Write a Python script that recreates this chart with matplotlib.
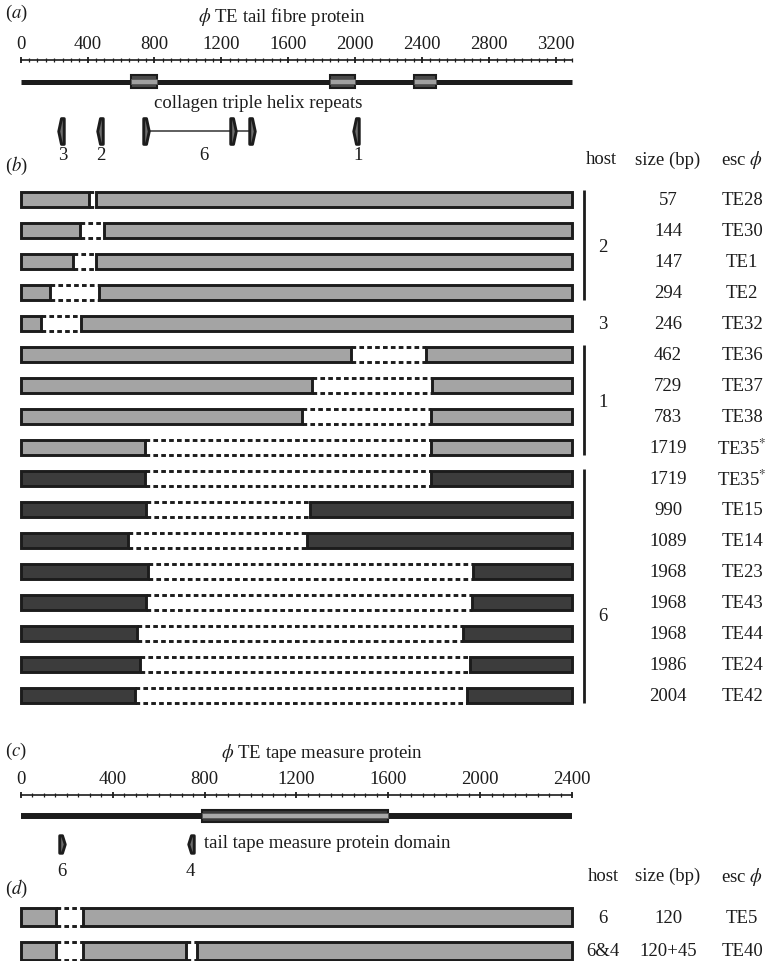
import matplotlib
matplotlib.use("Agg")
import matplotlib.pyplot as plt
from matplotlib.path import Path
from matplotlib.ticker import MultipleLocator
from matplotlib.transforms import Affine2D

plt.rcParams["font.family"] = ["Liberation Serif", "DejaVu Serif"]
plt.rcParams["mathtext.fontset"] = "stix"

# ---- (a) phi TE tail fibre protein ----
tail_len = 3300
collagen_start = [662, 1848, 2352]
collagen_end = [813, 1998, 2483]
a_mark_x = [243, 472, 752, 1270, 1385, 2008]
a_mark_dir = ["left", "left", "right", "right", "right", "left"]
a_label_x = [250, 480, 1097, 2020]
a_label_txt = ["3", "2", "6", "1"]
host6_span = [752, 1385]

# ---- (b) deletions in tail fibre gene ----
b_size = [57, 144, 147, 294, 246, 462, 729, 783, 1719,
          1719, 990, 1089, 1968, 1968, 1968, 1986, 2004]
b_esc = ["TE28", "TE30", "TE1", "TE2", "TE32", "TE36", "TE37", "TE38", "TE35*",
         "TE35*", "TE15", "TE14", "TE23", "TE43", "TE44", "TE24", "TE42"]
b_gap_start = [408, 353, 313, 178, 124, 1974, 1742, 1685, 746,
               746, 752, 642, 761, 752, 698, 712, 682]
b_gap_end = [453, 498, 453, 466, 363, 2426, 2462, 2456, 2456,
             2456, 1728, 1712, 2705, 2702, 2645, 2685, 2671]
b_dark = [False, False, False, False, False, False, False, False, False,
          True, True, True, True, True, True, True, True]
host_names = ["2", "3", "1", "6"]
host_first = [0, 4, 5, 9]
host_last = [3, 4, 8, 16]
host_label_row = [1.5, 4, 6.5, 13.4]

# ---- (c) phi TE tape measure protein ----
tape_len = 2400
tape_domain = [790, 1600]
c_mark_x = [178, 740]
c_mark_dir = ["right", "left"]
c_label_txt = ["6", "4"]

# ---- (d) deletions in tape measure gene ----
d_host = ["6", "6&4"]
d_size = ["120", "120+45"]
d_esc = ["TE5", "TE40"]
d_gap_start = [[154], [154, 719]]
d_gap_end = [[270], [270, 766]]

INK = "#1c1c1c"
LIGHT = "#a4a4a4"
DARK = "#3c3c3c"
FS = 13.5
W, H = 769, 962

fig = plt.figure(figsize=(W / 100, H / 100), dpi=100)
PX = Affine2D().scale(1 / W, -1 / H).translate(0, 1) + fig.transFigure

A0, A_SCALE = 20.7, 0.1672   # pixel of bp 0, pixels per bp
C0, C_SCALE = 20.7, 0.2298
HOST_X, SIZE_X, ESC_X, BRACKET_X = 603, 668, 742, 584


def band_axes(top, bottom):
    ax = fig.add_axes([0, 1 - bottom / H, 1, (bottom - top) / H])
    ax.set_axis_off()
    return ax


def ruler(y, x0, scale, length, major):
    ax = fig.add_axes([x0 / W, 1 - y / H, length * scale / W, 1e-4])
    ax.set_xlim(0, length)
    ax.set_ylim(0, 1)
    for s in ["top", "left", "right"]:
        ax.spines[s].set_visible(False)
    ax.spines["bottom"].set_linewidth(1.2)
    ax.spines["bottom"].set_color(INK)
    ax.xaxis.set_major_locator(MultipleLocator(major))
    ax.xaxis.set_minor_locator(MultipleLocator(50))
    ax.tick_params(axis="x", which="both", direction="inout", bottom=True, top=False,
                   labelbottom=False, labeltop=True, colors=INK)
    ax.tick_params(axis="x", which="major", length=5, width=1.3, pad=3, labelsize=FS)
    ax.tick_params(axis="x", which="minor", length=2.6, width=0.9)
    ax.set_yticks([])
    ax.patch.set_visible(False)
    return ax


def arrow_path(direction, half_w):
    s = -1 if direction == "left" else 1
    verts = [(-s * half_w, -0.5), (-s * half_w, 0.5), (0, 0.5), (s * half_w, 0), (0, -0.5)]
    return Path(verts + [verts[0]], closed=True)


def gene_row(ax, row, length, starts, ends, height, color):
    lefts = [0] + list(ends)
    rights = list(starts) + [length]
    ax.barh([row] * len(lefts), [r - l for l, r in zip(lefts, rights)], left=lefts,
            height=height, color=color, edgecolor=INK, linewidth=2.1, zorder=3)
    for s, e in zip(starts, ends):
        ax.hlines([row - height / 2, row + height / 2], s, e, colors=INK,
                  linewidth=2.1, linestyles=(0, (1.6, 1.1)), zorder=2)


def row_text(ax, row, x, s):
    if s.endswith("*"):
        s = s[:-1] + r"$^{*}$"
    ax.text(x / W, row, s, transform=ax.get_yaxis_transform(), ha="center",
            va="center", fontsize=FS, color=INK)


def ftext(x, y, s, ha="center"):
    fig.text(x, y, s, transform=PX, ha=ha, va="center", fontsize=FS, color=INK)


# ---------------- panel (a) ----------------
ax_a = band_axes(0, 185.2)
ax_a.set_xlim(-A0 / A_SCALE, (W - A0) / A_SCALE)
ax_a.set_ylim(185.2, 0)
ruler(60.7, A0, A_SCALE, tail_len, 400)
ax_a.hlines(82.7, 0, tail_len, colors=INK, linewidth=3.6, zorder=2)
ax_a.barh([82.7] * 3, [e - s for s, e in zip(collagen_start, collagen_end)],
          left=collagen_start, height=13, color="#4a4a4a", edgecolor=INK, lw=1.5, zorder=3)
ax_a.barh([82.7] * 3, [e - s for s, e in zip(collagen_start, collagen_end)],
          left=collagen_start, height=5, color="#a0a0a0", edgecolor="#555555", lw=0.6, zorder=4)
ax_a.hlines(131.7, host6_span[0], host6_span[1], colors="#333333", linewidth=1.1, zorder=2)
for x, d in zip(a_mark_x, a_mark_dir):
    ax_a.plot([x], [131.7], marker=arrow_path(d, 0.107), ms=18.5, mfc="#6e6e6e",
              mec=INK, mew=2.1, ls="none", zorder=3)
for x, t in zip(a_label_x, a_label_txt):
    ax_a.text(x, 155, t, ha="center", va="center", fontsize=FS, color=INK)

ftext(5, 13, "($a$)", ha="left")
ftext(281.7, 17, r"$\phi$ TE tail fibre protein")
ftext(258, 104, "collagen triple helix repeats")

# ---------------- panel (b) ----------------
ax_b = band_axes(185.2, 712.2)
ax_b.set_xlim(-A0 / A_SCALE, (W - A0) / A_SCALE)
ax_b.set_ylim(16.5, -0.5)
for i in range(len(b_size)):
    gene_row(ax_b, i, tail_len, [b_gap_start[i]], [b_gap_end[i]], 0.5,
             DARK if b_dark[i] else LIGHT)
    row_text(ax_b, i, SIZE_X, str(b_size[i]))
    row_text(ax_b, i, ESC_X, b_esc[i])
for name, f, l, yl in zip(host_names, host_first, host_last, host_label_row):
    if l > f:
        ax_b.vlines(BRACKET_X / W, f - 0.32, l + 0.25, transform=ax_b.get_yaxis_transform(),
                    colors=INK, linewidth=2.0)
    row_text(ax_b, yl, HOST_X, name)

ftext(5, 166, "($b$)", ha="left")
ftext(HOST_X - 2, 160, "host")
ftext(SIZE_X, 160, "size (bp)")
ftext(ESC_X, 160, r"esc $\phi$")

# ---------------- panel (c) ----------------
ax_c = band_axes(712.2, 900)
ax_c.set_xlim(-C0 / C_SCALE, (W - C0) / C_SCALE)
ax_c.set_ylim(900, 712.2)
ruler(796, C0, C_SCALE, tape_len, 400)
ax_c.hlines(816.7, 0, tape_len, colors=INK, linewidth=4.3, zorder=2)
ax_c.barh([816.7], [tape_domain[1] - tape_domain[0]], left=tape_domain[0], height=11.6,
          color="#3a3a3a", edgecolor=INK, lw=1.5, zorder=3)
ax_c.barh([816.7], [tape_domain[1] - tape_domain[0]], left=tape_domain[0], height=5,
          color="#a8a8a8", edgecolor="#555555", lw=0.6, zorder=4)
for x, d, t in zip(c_mark_x, c_mark_dir, c_label_txt):
    ax_c.plot([x], [845], marker=arrow_path(d, 0.157), ms=12.6, mfc="#6e6e6e",
              mec=INK, mew=2.1, ls="none", zorder=3)
    ax_c.text(x, 871.7, t, ha="center", va="center", fontsize=FS, color=INK)

ftext(5, 751.7, "($c$)", ha="left")
ftext(321.7, 753, r"$\phi$ TE tape measure protein")
ftext(204, 844, "tail tape measure protein domain", ha="left")

# ---------------- panel (d) ----------------
ax_d = band_axes(901.6, 968.4)
ax_d.set_xlim(-C0 / C_SCALE, (W - C0) / C_SCALE)
ax_d.set_ylim(1.5, -0.5)
for i in range(len(d_host)):
    gene_row(ax_d, i, tape_len, d_gap_start[i], d_gap_end[i], 0.54, LIGHT)
    row_text(ax_d, i, HOST_X, d_host[i])
    row_text(ax_d, i, SIZE_X, d_size[i])
    row_text(ax_d, i, ESC_X, d_esc[i])

ftext(5, 889, "($d$)", ha="left")
ftext(HOST_X, 876.7, "host")
ftext(SIZE_X, 876.7, "size (bp)")
ftext(ESC_X, 876.7, r"esc $\phi$")

fig.savefig("out.png", dpi=100)
